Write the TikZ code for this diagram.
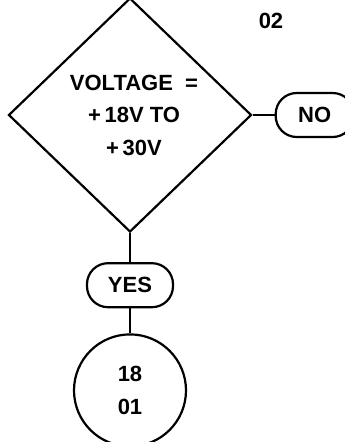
\documentclass[tikz,border=0pt]{standalone}
\usepackage{fontspec}
\setmainfont{Liberation Sans}
\usetikzlibrary{positioning, shapes.geometric}

\begin{document}
\begin{tikzpicture}[
    x=1pt, y=-1pt,
    line width=2.2pt,
    txt/.style={font=\fontsize{22}{32.5}\selectfont\bfseries, align=center},
    dec/.style={txt, draw, shape=diamond, aspect=1, inner sep=0pt,
                minimum width=243pt, minimum height=234pt},
    pill/.style={txt, draw, rounded corners=21pt, inner sep=0pt,
                 minimum height=44pt},
    conn/.style={txt, draw, circle, inner sep=0pt, minimum size=112pt},
    flow/.style={line width=2.2pt},
]
\useasboundingbox (0,0) rectangle (345,442);
\node[dec] (volt) at (130,115) {\hspace*{8pt}VOLTAGE \ =\\ \hspace*{8pt}+\,18V TO\\ \hspace*{8pt}+\,30V};
\node[pill, minimum width=78pt, right=22pt of volt] (no) {NO};
\node[pill, minimum width=86pt, below=29pt of volt] (yes) {YES};
\node[conn, below=25pt of yes] (next) {18\\01};
\node[txt] (page) at (271,21) {02};
\draw[flow] (volt.east) -- (no.west);
\draw[flow] (volt.south) -- (yes.north);
\draw[flow] (yes.south) -- (next.north);
\end{tikzpicture}
\end{document}
